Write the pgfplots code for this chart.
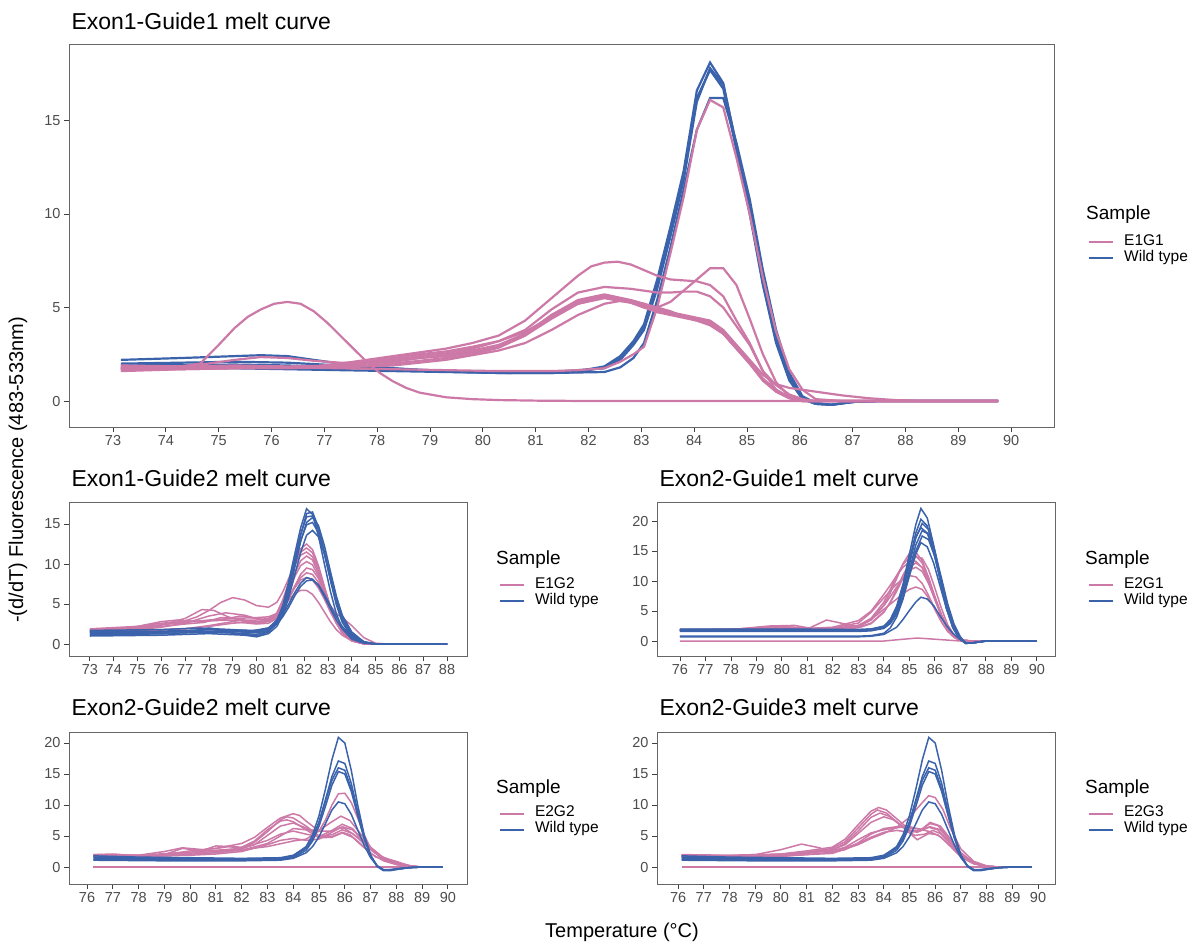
\documentclass[border=0pt]{standalone}
\usepackage{fontspec}
\setmainfont{Liberation Sans}
\usepackage{pgfplots}
\pgfplotsset{compat=1.18}
\definecolor{pk}{RGB}{204,121,167}
\definecolor{bl}{RGB}{59,99,171}
\newcommand{\titlefont}{\fontsize{23}{25}\selectfont}
\newcommand{\axfont}{\fontsize{20}{23}\selectfont}
\newcommand{\legtitle}{\fontsize{19}{21}\selectfont}
\pgfplotsset{
  meltbase/.style={
    scale only axis, no markers, clip=true,
    axis line style={black!60, line width=0.9pt},
    tick style={black!75, line width=0.9pt},
    major tick length=5pt, tick align=outside, tick pos=left,
    ticklabel style={font=\fontsize{14.5}{16}\selectfont, text=black!70},
    /pgf/number format/assume math mode=true,
    legend image code/.code={\draw[##1] (0pt,0pt) -- (24pt,0pt);},
    legend cell align=left,
    legend style={draw=none, fill=none, inner sep=0pt, outer sep=0pt,
      font=\fontsize{15.5}{16}\selectfont, row sep=0pt, column sep=10pt,
      nodes={inner sep=0pt, text height=11pt, text depth=5pt}, anchor=west},
  },
  pT/.style={draw=pk, line width=2.2pt, forget plot},
  bT/.style={draw=bl, line width=2.2pt, forget plot},
  pS/.style={draw=pk, line width=1.5pt, forget plot},
  bS/.style={draw=bl, line width=1.5pt, forget plot},
}
\begin{document}
\begin{tikzpicture}[x=1pt,y=1pt]
\path (0,0) rectangle (1198,-945);
% ================= TOP PANEL =================
\begin{axis}[meltbase, at={(69pt,-44pt)}, anchor=north west,
  width=985pt, height=383pt, xmin=72.167, xmax=90.81, ymin=-1.39, ymax=19.09,
  xtick={73,74,...,90}, ytick={0,5,10,15},
  legend style={at={(1.0345,0.462)}}]
\addlegendimage{draw=pk, line width=2.2pt}\addlegendentry{E1G1}
\addlegendimage{draw=bl, line width=2.2pt}\addlegendentry{Wild type}
% blue
\addplot[bT] coordinates {(73.15,2.2)(74.3,2.3)(75.3,2.4)(75.8,2.45)(76.3,2.4)(76.8,2.2)(77.3,2.0)(77.8,1.85)(78.3,1.75)(78.8,1.65)(79.5,1.55)(80.5,1.5)(81.3,1.55)(81.8,1.6)(82.3,1.85)(82.6,2.4)(82.85,3.2)(83.05,4.1)(83.3,6.5)(83.55,9.3)(83.8,12.3)(84.05,16.6)(84.3,18.1)(84.55,17.0)(84.8,13.6)(85.05,10.2)(85.3,6.3)(85.55,3.2)(85.8,1.2)(86.05,0.1)(86.3,-0.15)(86.6,-0.2)(87.0,-0.05)(87.5,0)(89.75,0)};
\addplot[bT] coordinates {(73.15,2.0)(74.3,2.05)(75.3,2.1)(76.3,2.05)(77.3,1.9)(78.3,1.75)(79.3,1.6)(80.3,1.5)(81.3,1.5)(81.8,1.55)(82.3,1.8)(82.6,2.3)(82.85,3.1)(83.05,4.0)(83.3,6.3)(83.55,9.1)(83.8,12.0)(84.05,16.2)(84.3,17.7)(84.55,16.7)(84.8,13.4)(85.05,10.0)(85.3,6.2)(85.55,3.1)(85.8,1.1)(86.05,0.1)(86.3,-0.15)(86.6,-0.2)(87.0,-0.05)(87.5,0)(89.75,0)};
\addplot[bT] coordinates {(73.15,1.75)(74.3,1.75)(75.3,1.75)(76.3,1.7)(77.3,1.65)(78.3,1.6)(79.3,1.55)(80.3,1.5)(81.3,1.5)(82.3,1.55)(82.6,1.8)(82.85,2.3)(83.05,3.1)(83.3,5.4)(83.55,8.2)(83.8,11.3)(84.05,14.5)(84.3,16.2)(84.55,16.2)(84.8,13.8)(85.05,10.8)(85.3,7.0)(85.55,3.8)(85.8,1.5)(86.05,0.25)(86.3,-0.1)(86.6,-0.2)(87.0,-0.05)(87.5,0)(89.75,0)};
\addplot[bT] coordinates {(73.15,1.9)(75.3,1.95)(76.3,1.9)(77.3,1.8)(78.3,1.7)(79.3,1.6)(80.3,1.55)(81.3,1.55)(82.3,1.75)(82.6,2.2)(82.85,3.0)(83.05,3.8)(83.3,6.0)(83.55,8.8)(83.8,11.8)(84.05,16.0)(84.3,17.8)(84.55,16.9)(84.8,13.7)(85.05,10.4)(85.3,6.6)(85.55,3.4)(85.8,1.3)(86.05,0.15)(86.3,-0.15)(86.6,-0.2)(87.0,-0.05)(87.5,0)(89.75,0)};
% pink
\addplot[pT] coordinates {(73.15,1.8)(73.8,1.8)(74.3,1.85)(74.65,2.0)(75.0,3.0)(75.3,3.9)(75.55,4.5)(75.8,4.9)(76.05,5.2)(76.3,5.3)(76.55,5.2)(76.8,4.8)(77.05,4.2)(77.3,3.5)(77.55,2.8)(77.8,2.1)(78.05,1.5)(78.3,1.05)(78.55,0.7)(78.8,0.45)(79.3,0.2)(79.8,0.1)(80.3,0.05)(81.0,0.02)(82,0)(89.75,0)};
\addplot[pT] coordinates {(73.15,1.7)(74.3,1.75)(75.3,1.8)(76.3,1.8)(77.3,1.75)(78.3,1.7)(79.3,1.65)(80.3,1.6)(81.3,1.6)(81.8,1.65)(82.3,1.75)(82.6,2.1)(82.85,2.5)(83.05,2.9)(83.3,5.0)(83.55,7.9)(83.8,10.9)(84.05,14.5)(84.3,16.1)(84.55,15.7)(84.8,13.0)(85.05,10.0)(85.3,6.6)(85.55,3.7)(85.8,1.7)(86.05,0.6)(86.3,0.1)(86.8,0)(89.75,0)};
\addplot[pT] coordinates {(73.15,1.75)(74.3,1.8)(75.3,1.8)(76.3,1.8)(76.8,1.85)(77.3,2.0)(77.8,2.2)(78.3,2.4)(78.8,2.6)(79.3,2.8)(79.8,3.1)(80.3,3.5)(80.8,4.3)(81.3,5.5)(81.8,6.7)(82.05,7.2)(82.3,7.4)(82.55,7.45)(82.8,7.3)(83.05,7.0)(83.3,6.7)(83.55,6.5)(83.8,6.45)(84.05,6.4)(84.3,6.2)(84.55,5.6)(84.8,4.3)(85.05,3.1)(85.3,1.6)(85.55,0.85)(85.8,0.35)(86.05,0.1)(86.3,0)(89.75,0)};
\addplot[pT] coordinates {(73.15,1.9)(74.3,1.85)(75.3,1.8)(76.3,1.8)(77.3,1.9)(77.8,2.1)(78.3,2.3)(78.8,2.5)(79.3,2.65)(79.8,2.9)(80.3,3.2)(80.8,3.7)(81.3,4.5)(81.8,5.2)(82.3,5.55)(82.8,5.3)(83.05,5.0)(83.3,5.0)(83.55,5.3)(83.8,5.9)(84.05,6.5)(84.3,7.1)(84.55,7.1)(84.8,6.2)(85.05,4.4)(85.3,2.5)(85.55,1.0)(85.8,0.25)(86.05,0)(89.75,0)};
\addplot[pT] coordinates {(73.15,1.6)(74.3,1.7)(75.3,1.75)(76.3,1.8)(77.3,1.9)(77.8,2.05)(78.3,2.2)(78.8,2.4)(79.3,2.55)(79.8,2.8)(80.3,3.2)(80.8,3.8)(81.3,4.9)(81.8,5.8)(82.3,6.1)(82.8,6.0)(83.05,5.9)(83.3,5.8)(83.55,5.8)(83.8,5.85)(84.05,5.85)(84.3,5.6)(84.55,5.0)(84.8,4.0)(85.05,3.0)(85.3,1.6)(85.55,0.6)(85.8,0.2)(86.05,0)(89.75,0)};
\addplot[pT] coordinates {(73.15,1.85)(74.3,1.85)(75.3,1.9)(76.3,1.85)(77.3,1.9)(77.8,2.0)(78.3,2.1)(78.8,2.3)(79.3,2.45)(79.8,2.7)(80.3,3.0)(80.8,3.6)(81.3,4.6)(81.8,5.3)(82.3,5.6)(82.8,5.3)(83.05,5.1)(83.3,4.8)(83.55,4.65)(83.8,4.5)(84.05,4.4)(84.3,4.2)(84.55,3.7)(84.8,2.9)(85.05,2.1)(85.3,1.2)(85.55,0.6)(85.8,0.2)(86.05,0)(89.75,0)};
\addplot[pT] coordinates {(73.15,1.7)(74.3,1.75)(75.3,1.8)(76.3,1.8)(77.3,1.85)(77.8,1.9)(78.3,2.0)(78.8,2.15)(79.3,2.3)(79.8,2.5)(80.3,2.85)(80.8,3.5)(81.3,4.6)(81.8,5.4)(82.3,5.7)(82.8,5.4)(83.05,5.2)(83.3,4.9)(83.55,4.75)(83.8,4.6)(84.05,4.45)(84.3,4.3)(84.55,3.8)(84.8,3.0)(85.05,2.2)(85.3,1.4)(85.55,0.9)(85.8,0.7)(86.05,0.6)(86.3,0.5)(86.8,0.3)(87.3,0.15)(87.8,0.05)(88.3,0)(89.75,0)};
\addplot[pT] coordinates {(73.15,1.75)(73.8,1.8)(74.3,1.85)(74.8,2.0)(75.3,2.2)(75.8,2.35)(76.3,2.3)(76.8,2.15)(77.3,2.05)(77.8,2.05)(78.3,2.1)(78.8,2.3)(79.3,2.4)(79.8,2.6)(80.3,2.9)(80.8,3.5)(81.3,4.4)(81.8,5.2)(82.3,5.5)(82.8,5.25)(83.05,5.0)(83.3,4.75)(83.55,4.6)(83.8,4.45)(84.05,4.3)(84.3,4.05)(84.55,3.6)(84.8,2.8)(85.05,2.0)(85.3,1.1)(85.55,0.5)(85.8,0.15)(86.05,0)(89.75,0)};
\addplot[pT] coordinates {(73.15,1.65)(74.3,1.7)(75.3,1.75)(76.3,1.75)(77.3,1.8)(77.8,1.85)(78.3,1.9)(78.8,2.05)(79.3,2.2)(79.8,2.45)(80.3,2.7)(80.8,3.1)(81.3,3.8)(81.8,4.6)(82.3,5.2)(82.6,5.35)(82.8,5.3)(83.05,5.2)(83.3,5.0)(83.55,4.8)(83.8,4.5)(84.05,4.3)(84.3,4.1)(84.55,3.6)(84.8,2.8)(85.05,2.0)(85.3,1.1)(85.55,0.5)(85.8,0.15)(86.05,0)(89.75,0)};
\end{axis}
% ================= E1G2 =================
\begin{axis}[meltbase, at={(69pt,-502pt)}, anchor=north west,
  width=398pt, height=154pt, xmin=72.12, xmax=88.84, ymin=-1.5, ymax=17.75,
  xtick={73,74,...,88}, ytick={0,5,10,15},
  legend style={at={(1.0804,0.406)}}]
\addlegendimage{draw=pk, line width=2pt}\addlegendentry{E1G2}
\addlegendimage{draw=bl, line width=2pt}\addlegendentry{Wild type}
\addplot[pS] coordinates {(73,1.8)(74,1.9)(75,2.1)(76,2.4)(77,2.9)(77.5,3.4)(78,4.2)(78.5,5.2)(79,5.8)(79.5,5.5)(80,4.8)(80.5,4.6)(80.85,5.2)(81.1,6.5)(81.35,8.2)(81.6,9.9)(81.85,11.1)(82.1,11.5)(82.35,10.9)(82.6,9.2)(82.85,6.9)(83.1,4.6)(83.35,2.7)(83.6,1.4)(84,0.4)(84.5,0.05)(85,0)(88,0)};
\addplot[pS] coordinates {(73,1.6)(74,1.8)(75,2.0)(76,2.4)(77,3.2)(77.7,4.3)(78.2,4.2)(78.8,3.4)(79.5,2.8)(80,2.6)(80.5,2.9)(80.85,3.9)(81.1,5.5)(81.35,7.7)(81.6,10.0)(81.85,11.9)(82.1,12.5)(82.35,11.8)(82.6,9.8)(82.85,7.2)(83.1,4.7)(83.35,2.7)(83.6,1.4)(84,0.4)(84.5,0.05)(85,0)(88,0)};
\addplot[pS] coordinates {(73,1.7)(74,1.9)(75,2.2)(76,2.8)(76.7,3.0)(77.5,2.8)(78.5,3.0)(79.3,3.5)(80,3.2)(80.5,3.0)(80.85,3.6)(81.1,4.9)(81.35,6.8)(81.6,8.8)(81.85,10.4)(82.1,11.0)(82.35,10.5)(82.6,8.8)(82.85,6.6)(83.1,4.4)(83.35,2.6)(83.6,1.4)(84,0.4)(84.5,0)(85,0)(88,0)};
\addplot[pS] coordinates {(73,1.5)(75,1.8)(76,2.1)(77,2.6)(78,3.5)(78.7,3.9)(79.5,3.6)(80.2,3.0)(80.5,2.9)(80.85,3.3)(81.1,4.2)(81.35,5.6)(81.6,7.2)(81.85,8.7)(82.1,9.5)(82.35,9.3)(82.6,8.2)(82.85,6.4)(83.1,4.5)(83.35,2.9)(83.6,1.7)(84,0.6)(84.5,0.1)(85,0)(88,0)};
\addplot[pS] coordinates {(73,1.7)(75,2.0)(76,2.4)(77,2.7)(78,3.0)(79,3.2)(80,3.3)(80.5,3.4)(80.85,3.8)(81.1,4.6)(81.35,5.8)(81.6,7.2)(81.85,8.3)(82.1,8.9)(82.35,8.7)(82.6,7.7)(82.85,6.2)(83.1,4.8)(83.35,3.8)(83.6,3.3)(84,2.3)(84.5,0.8)(85,0.1)(85.5,0)(88,0)};
\addplot[pS] coordinates {(73,1.9)(75,2.2)(76,2.6)(77,2.8)(78,2.9)(79,3.0)(80,3.0)(80.5,3.2)(80.85,3.8)(81.1,4.6)(81.35,5.5)(81.6,6.3)(81.85,6.7)(82.1,6.7)(82.35,6.2)(82.6,5.2)(82.85,4.0)(83.1,2.8)(83.35,1.8)(83.6,1.1)(84,0.4)(84.5,0.05)(85,0)(88,0)};
\addplot[pS] coordinates {(73,1.6)(75,1.7)(77,1.9)(78,2.3)(79,2.8)(80,2.5)(80.5,2.6)(80.85,3.2)(81.1,4.5)(81.35,6.4)(81.6,8.4)(81.85,9.8)(82.1,10.3)(82.35,9.9)(82.6,8.5)(82.85,6.5)(83.1,4.5)(83.35,2.8)(83.6,1.6)(84,0.5)(84.5,0.05)(85,0)(88,0)};
\addplot[pS] coordinates {(73,1.8)(75,1.9)(76,2.2)(77,2.5)(77.8,2.7)(78.5,3.3)(79.2,3.2)(80,2.6)(80.5,2.8)(80.85,3.4)(81.1,4.4)(81.35,5.7)(81.6,7.0)(81.85,8.0)(82.1,8.3)(82.35,8.0)(82.6,7.0)(82.85,5.6)(83.1,4.0)(83.35,2.6)(83.6,1.5)(84,0.5)(84.5,0.05)(85,0)(88,0)};
\addplot[pS] coordinates {(73,1.5)(75,1.6)(77,1.9)(78,2.2)(79,2.6)(80,2.8)(80.5,3.0)(80.85,3.8)(81.1,5.3)(81.35,7.5)(81.6,9.8)(81.85,11.5)(82.1,12.0)(82.35,11.4)(82.6,9.5)(82.85,7.0)(83.1,4.6)(83.35,2.7)(83.6,1.4)(84,0.4)(84.5,0.05)(85,0)(88,0)};
\addplot[bS] coordinates {(73,1.1)(75,1.2)(77,1.4)(78,1.5)(79,1.4)(79.5,1.2)(80,1.0)(80.5,1.5)(80.85,2.8)(81.1,4.8)(81.35,7.8)(81.6,11.2)(81.85,14.5)(82.1,16.9)(82.35,16.2)(82.6,13.5)(82.85,10.0)(83.1,6.6)(83.35,3.8)(83.6,1.9)(84,0.6)(84.5,0.1)(85,0)(88,0)};
\addplot[bS] coordinates {(73,1.3)(75,1.4)(77,1.6)(78,1.8)(79,1.6)(80,1.4)(80.5,1.7)(80.85,2.6)(81.1,4.2)(81.35,6.9)(81.6,10.2)(81.85,13.6)(82.1,16.3)(82.35,16.5)(82.6,14.6)(82.85,11.5)(83.1,8.0)(83.35,4.9)(83.6,2.7)(84,0.9)(84.5,0.2)(85,0)(88,0)};
\addplot[bS] coordinates {(73,1.6)(75,1.6)(76,1.5)(77.5,1.7)(78,2.0)(78.5,1.8)(79.5,1.5)(80.5,2.0)(80.85,3.0)(81.1,4.6)(81.35,7.2)(81.6,10.5)(81.85,13.7)(82.1,15.9)(82.35,16.0)(82.6,14.3)(82.85,11.4)(83.1,8.2)(83.35,5.3)(83.6,3.0)(84,1.1)(84.5,0.2)(85,0)(88,0)};
\addplot[bS] coordinates {(73,1.2)(76,1.3)(78,1.5)(79.5,1.3)(80,1.2)(80.5,1.6)(80.85,2.5)(81.1,3.9)(81.35,6.3)(81.6,9.5)(81.85,12.8)(82.1,15.2)(82.35,15.8)(82.6,14.8)(82.85,12.3)(83.1,9.1)(83.35,6.0)(83.6,3.5)(84,1.3)(84.5,0.3)(85,0)(88,0)};
\addplot[bS] coordinates {(73,1.4)(76,1.5)(78,1.6)(80,1.5)(80.5,1.9)(80.85,2.9)(81.1,4.5)(81.35,7.0)(81.6,10.0)(81.85,12.9)(82.1,14.9)(82.35,15.2)(82.6,13.9)(82.85,11.2)(83.1,8.1)(83.35,5.3)(83.6,3.1)(84,1.2)(84.5,0.2)(85,0)(88,0)};
\addplot[bS] coordinates {(73,1.0)(76,1.1)(78,1.3)(79.5,1.1)(80,0.9)(80.5,1.3)(80.85,2.2)(81.1,3.6)(81.35,5.8)(81.6,8.6)(81.85,11.4)(82.1,13.6)(82.35,14.2)(82.6,13.4)(82.85,11.3)(83.1,8.6)(83.35,5.8)(83.6,3.6)(84,1.5)(84.5,0.3)(85,0)(88,0)};
\addplot[bS] coordinates {(73,1.5)(76,1.6)(78,1.8)(80,1.7)(80.5,2.0)(80.85,2.7)(81.1,3.7)(81.35,5.0)(81.6,6.4)(81.85,7.6)(82.1,8.3)(82.35,8.1)(82.6,7.3)(82.85,5.9)(83.1,4.4)(83.35,3.0)(83.6,1.9)(84,0.8)(84.5,0.2)(85,0)(88,0)};
\addplot[bS] coordinates {(73,1.7)(76,1.8)(77.5,2.0)(79,1.8)(80,1.6)(80.5,1.9)(80.85,2.5)(81.1,3.4)(81.35,4.6)(81.6,6.0)(81.85,7.2)(82.1,7.9)(82.35,8.0)(82.6,7.4)(82.85,6.2)(83.1,4.8)(83.35,3.4)(83.6,2.2)(84,0.9)(84.5,0.2)(85,0)(88,0)};
\end{axis}
% ================= E2G1 =================
\begin{axis}[meltbase, at={(657pt,-502pt)}, anchor=north west,
  width=398pt, height=154pt, xmin=75.10, xmax=90.71, ymin=-2.5, ymax=23.17,
  xtick={76,77,...,90}, ytick={0,5,10,15,20},
  legend style={at={(1.0829,0.406)}}]
\addlegendimage{draw=pk, line width=2pt}\addlegendentry{E2G1}
\addlegendimage{draw=bl, line width=2pt}\addlegendentry{Wild type}
\addplot[pS] coordinates {(76,0)(84,0)(84.5,0.2)(85.3,0.5)(86,0.3)(87,0)(90,0)};
\addplot[pS] coordinates {(76,1.8)(78,1.8)(79,2.2)(80,2.4)(81,2.0)(82,2.0)(83,2.4)(83.5,3.5)(84,6.0)(84.25,8.0)(84.5,10.4)(84.75,12.9)(85,14.6)(85.25,14.8)(85.5,13.4)(85.75,10.6)(86,7.3)(86.25,4.3)(86.5,2.0)(86.75,0.7)(87,0.1)(87.5,0)(90,0)};
\addplot[pS] coordinates {(76,1.8)(78,1.9)(79.5,2.5)(80.5,2.6)(81.3,2.0)(82,2.1)(83,2.6)(83.5,3.8)(84,6.5)(84.25,8.6)(84.5,10.9)(84.75,12.8)(85,13.9)(85.25,14.2)(85.5,13.0)(85.75,10.5)(86,7.3)(86.25,4.4)(86.5,2.1)(86.75,0.8)(87,0.1)(87.5,0)(90,0)};
\addplot[pS] coordinates {(76,1.9)(78,1.9)(79,2.1)(80,2.4)(81,2.1)(82,2.3)(83,3.4)(83.5,5.0)(84,7.8)(84.25,9.3)(84.5,10.9)(84.75,12.3)(85,13.2)(85.25,13.3)(85.5,12.2)(85.75,9.8)(86,6.9)(86.25,4.2)(86.5,2.1)(86.75,0.8)(87,0.1)(87.5,0)(90,0)};
\addplot[pS] coordinates {(76,1.7)(78,1.8)(80,2.0)(81,2.0)(81.75,3.5)(82.3,3.0)(83,2.3)(83.5,3.0)(84,4.9)(84.25,6.4)(84.5,8.3)(84.75,10.5)(85,12.3)(85.25,13.0)(85.5,12.3)(85.75,10.2)(86,7.3)(86.25,4.5)(86.5,2.2)(86.75,0.8)(87,0.1)(87.5,0)(90,0)};
\addplot[pS] coordinates {(76,1.8)(78,1.9)(79.5,2.4)(80.5,2.3)(81.5,2.0)(82.5,2.1)(83,2.5)(83.5,3.6)(84,5.9)(84.25,7.4)(84.5,9.0)(84.75,10.6)(85,11.8)(85.25,12.3)(85.5,11.6)(85.75,9.6)(86,6.9)(86.25,4.3)(86.5,2.1)(86.75,0.8)(87,0.1)(87.5,0)(90,0)};
\addplot[pS] coordinates {(76,1.9)(78,2.0)(80,2.2)(81,2.1)(82,2.2)(83,3.0)(83.5,4.8)(84,7.2)(84.25,8.4)(84.5,9.5)(84.75,10.4)(85,10.9)(85.25,10.7)(85.5,9.6)(85.75,7.6)(86,5.3)(86.25,3.2)(86.5,1.6)(86.75,0.6)(87,0.1)(87.5,0)(90,0)};
\addplot[pS] coordinates {(76,1.8)(78,1.9)(80,2.2)(81,2.0)(82,2.1)(83,2.6)(83.5,3.6)(84,5.3)(84.5,7.0)(84.75,7.9)(85,8.6)(85.25,9.0)(85.5,8.6)(85.75,7.2)(86,5.3)(86.25,3.3)(86.5,1.7)(86.75,0.6)(87,0.1)(87.5,0)(90,0)};
\addplot[pS] coordinates {(76,1.7)(78,1.8)(79,2.0)(80,2.3)(81,1.9)(82,1.9)(83,2.2)(83.5,2.9)(84,4.8)(84.25,6.5)(84.5,8.7)(84.75,11.0)(85,12.9)(85.25,14.0)(85.5,13.8)(85.75,11.9)(86,8.8)(86.25,5.5)(86.5,2.7)(86.75,1.0)(87,0.2)(87.5,0)(90,0)};
\addplot[bS] coordinates {(76,1.9)(80,1.9)(83,1.9)(83.5,2.0)(84,2.5)(84.25,3.6)(84.5,5.8)(84.75,9.5)(85,14.5)(85.25,19.4)(85.45,22.1)(85.7,20.5)(85.95,16.0)(86.2,10.5)(86.45,5.5)(86.7,2.2)(86.95,0.4)(87.2,-0.4)(87.5,-0.3)(88,0)(90,0)};
\addplot[bS] coordinates {(76,1.8)(80,1.8)(83,1.8)(83.5,1.9)(84,2.3)(84.25,3.3)(84.5,5.3)(84.75,8.8)(85,13.5)(85.25,18.0)(85.45,20.3)(85.7,19.2)(85.95,15.3)(86.2,10.3)(86.45,5.5)(86.7,2.3)(86.95,0.5)(87.2,-0.4)(87.5,-0.3)(88,0)(90,0)};
\addplot[bS] coordinates {(76,2.0)(80,2.0)(83,1.9)(83.5,2.0)(84,2.4)(84.25,3.2)(84.5,5.0)(84.75,8.3)(85,12.8)(85.25,17.2)(85.5,19.6)(85.75,18.6)(86,15.0)(86.25,10.0)(86.5,5.3)(86.75,2.1)(87,0.4)(87.2,-0.3)(87.5,-0.3)(88,0)(90,0)};
\addplot[bS] coordinates {(76,1.7)(80,1.7)(83,1.7)(83.5,1.8)(84,2.3)(84.25,3.4)(84.5,5.6)(84.75,9.2)(85,13.6)(85.25,17.3)(85.45,18.9)(85.7,18.0)(85.95,14.8)(86.2,10.3)(86.45,5.9)(86.7,2.7)(86.95,0.7)(87.2,-0.3)(87.5,-0.3)(88,0)(90,0)};
\addplot[bS] coordinates {(76,1.9)(80,1.9)(83,1.8)(83.5,1.9)(84,2.2)(84.25,3.0)(84.5,4.6)(84.75,7.6)(85,11.8)(85.25,16.0)(85.5,18.4)(85.75,17.8)(86,14.9)(86.25,10.6)(86.5,6.2)(86.75,2.8)(87,0.7)(87.2,-0.3)(87.5,-0.3)(88,0)(90,0)};
\addplot[bS] coordinates {(76,1.6)(80,1.6)(83,1.6)(83.5,1.7)(84,2.1)(84.25,2.9)(84.5,4.5)(84.75,7.3)(85,10.9)(85.25,14.5)(85.45,16.4)(85.7,15.7)(85.95,13.0)(86.2,9.2)(86.45,5.4)(86.7,2.5)(86.95,0.6)(87.2,-0.3)(87.5,-0.3)(88,0)(90,0)};
\addplot[bS] coordinates {(76,0.7)(80,0.7)(83,0.7)(83.5,0.8)(84,1.1)(84.5,2.3)(84.75,3.6)(85,5.1)(85.25,6.5)(85.45,7.3)(85.7,7.0)(85.95,5.9)(86.2,4.2)(86.45,2.6)(86.7,1.3)(86.95,0.4)(87.2,-0.3)(87.5,-0.3)(88,0)(90,0)};
\addplot[bS] coordinates {(76,0.8)(80,0.8)(83,0.8)(83.5,0.9)(84,1.3)(84.25,2.2)(84.5,4.0)(84.75,7.0)(85,11.0)(85.25,15.0)(85.5,17.5)(85.75,16.9)(86,14.0)(86.25,9.8)(86.5,5.6)(86.75,2.4)(87,0.5)(87.2,-0.4)(87.5,-0.3)(88,0)(90,0)};
\end{axis}
% ================= E2G2 =================
\begin{axis}[meltbase, at={(69pt,-732pt)}, anchor=north west,
  width=398pt, height=152pt, xmin=75.30, xmax=90.74, ymin=-2.74, ymax=21.77,
  xtick={76,77,...,90}, ytick={0,5,10,15,20},
  legend style={at={(1.0804,0.408)}}]
\addlegendimage{draw=pk, line width=2pt}\addlegendentry{E2G2}
\addlegendimage{draw=bl, line width=2pt}\addlegendentry{Wild type}
\addplot[pS] coordinates {(76.25,0)(89.8,0)};
\addplot[pS] coordinates {(76.25,1.9)(78,1.8)(80,2.2)(81,2.5)(82,2.8)(83,3.3)(84,4.2)(84.5,4.5)(85,5.8)(85.25,7.6)(85.5,10.0)(85.75,11.8)(86,11.9)(86.25,10.4)(86.5,7.9)(86.75,5.2)(87,3.0)(87.5,1.2)(88,0.4)(88.5,0.1)(89,0)(89.8,0)};
\addplot[pS] coordinates {(76.25,2.0)(77,2.1)(78,1.8)(79,2.0)(80,2.6)(81,3.0)(82,3.8)(82.5,4.8)(83,6.4)(83.5,7.9)(84,8.6)(84.25,8.3)(84.5,7.4)(85,5.8)(85.5,5.8)(85.8,6.3)(86,6.2)(86.5,4.8)(87,2.8)(87.5,1.3)(87.75,1.2)(88,0.9)(88.5,0.2)(89,0)(89.8,0)};
\addplot[pS] coordinates {(76.25,1.8)(78,1.7)(79,2.0)(79.7,3.0)(80.3,2.7)(81,2.6)(82,3.0)(82.5,4.0)(83,5.7)(83.5,7.6)(83.75,8.1)(84,7.9)(84.5,6.6)(85,5.0)(85.5,4.9)(85.9,5.6)(86.2,5.2)(86.6,3.8)(87,2.2)(87.5,1.0)(88,0.4)(88.5,0.1)(89,0)(89.8,0)};
\addplot[pS] coordinates {(76.25,1.7)(78,1.6)(80,2.0)(81,3.4)(81.5,3.3)(82,3.2)(82.5,4.2)(83,6.0)(83.5,7.4)(83.75,7.6)(84,7.3)(84.5,6.0)(85,4.7)(85.5,4.8)(85.9,5.5)(86.3,4.8)(86.7,3.3)(87.2,1.6)(87.7,1.2)(88,0.8)(88.5,0.2)(89,0)(89.8,0)};
\addplot[pS] coordinates {(76.25,1.9)(78,1.8)(80,2.1)(81,2.3)(82,2.7)(83,3.8)(83.5,5.0)(84,6.2)(84.5,6.0)(85,5.9)(85.5,7.3)(85.85,8.2)(86.2,7.5)(86.6,5.4)(87,3.2)(87.5,1.5)(88,0.5)(88.5,0.1)(89,0)(89.8,0)};
\addplot[pS] coordinates {(76.25,2.0)(78,1.9)(80,2.4)(81,2.7)(82,3.0)(83,4.3)(83.5,5.3)(84,5.8)(84.5,5.3)(85,4.9)(85.5,5.9)(85.9,6.9)(86.3,6.2)(86.7,4.3)(87.1,2.5)(87.5,1.3)(88,0.6)(88.5,0.1)(89,0)(89.8,0)};
\addplot[pS] coordinates {(76.25,1.8)(78,1.7)(80,1.9)(81,2.1)(82,2.5)(83,3.6)(83.5,4.3)(84,4.6)(84.5,4.3)(85,4.5)(85.5,5.6)(85.9,6.5)(86.3,6.0)(86.7,4.4)(87.1,2.6)(87.5,1.3)(88,0.5)(88.5,0.1)(89,0)(89.8,0)};
\addplot[pS] coordinates {(76.25,1.9)(77,2.0)(78,1.9)(79,2.5)(79.7,3.1)(80.5,2.8)(81,3.0)(81.5,3.3)(82,3.0)(82.5,3.6)(83,5.1)(83.5,6.6)(84,7.1)(84.5,6.3)(85,5.0)(85.5,5.2)(85.9,6.0)(86.3,5.4)(86.8,3.6)(87.3,1.9)(87.8,1.1)(88.2,0.5)(88.7,0.1)(89,0)(89.8,0)};
\addplot[bS] coordinates {(76.25,1.6)(79,1.4)(82,1.3)(83.5,1.4)(84,1.8)(84.5,3.3)(84.75,5.2)(85,8.3)(85.25,12.6)(85.5,17.3)(85.75,20.9)(86,20.0)(86.25,15.6)(86.5,10.0)(86.75,5.2)(87,1.9)(87.25,0.1)(87.5,-0.6)(87.75,-0.6)(88,-0.4)(88.5,-0.1)(89,0)(89.8,0)};
\addplot[bS] coordinates {(76.25,1.4)(79,1.3)(82,1.2)(83.5,1.3)(84,1.7)(84.5,3.0)(84.75,4.6)(85,7.3)(85.25,10.9)(85.5,14.6)(85.75,17.1)(86,16.7)(86.25,13.5)(86.5,9.0)(86.75,4.9)(87,1.9)(87.25,0.2)(87.5,-0.5)(87.75,-0.5)(88,-0.4)(88.5,-0.1)(89,0)(89.8,0)};
\addplot[bS] coordinates {(76.25,1.2)(79,1.2)(82,1.1)(83.5,1.2)(84,1.5)(84.5,2.7)(84.75,4.2)(85,6.6)(85.25,9.8)(85.5,13.2)(85.75,15.4)(86,15.0)(86.25,12.2)(86.5,8.3)(86.75,4.6)(87,1.8)(87.25,0.2)(87.5,-0.5)(87.75,-0.5)(88,-0.3)(88.5,-0.1)(89,0)(89.8,0)};
\addplot[bS] coordinates {(76.25,1.1)(79,1.0)(82,1.0)(83.5,1.1)(84,1.4)(84.5,2.3)(84.75,3.3)(85,4.9)(85.25,7.0)(85.5,9.2)(85.75,10.5)(86,10.2)(86.25,8.5)(86.5,6.0)(86.75,3.5)(87,1.5)(87.25,0.2)(87.5,-0.4)(87.75,-0.4)(88,-0.3)(88.5,-0.1)(89,0)(89.8,0)};
\addplot[bS] coordinates {(76.25,1.8)(78,1.6)(82,1.4)(83.5,1.5)(84,1.9)(84.5,3.2)(84.75,4.7)(85,7.2)(85.25,10.6)(85.5,14.0)(85.75,16.0)(86,15.6)(86.25,12.7)(86.5,8.6)(86.75,4.7)(87,1.8)(87.25,0.2)(87.5,-0.5)(87.75,-0.5)(88,-0.3)(88.5,-0.1)(89,0)(89.8,0)};
\end{axis}
% ================= E2G3 =================
\begin{axis}[meltbase, at={(657pt,-732pt)}, anchor=north west,
  width=398pt, height=152pt, xmin=75.18, xmax=90.66, ymin=-2.74, ymax=21.77,
  xtick={76,77,...,90}, ytick={0,5,10,15,20},
  legend style={at={(1.0829,0.408)}}]
\addlegendimage{draw=pk, line width=2pt}\addlegendentry{E2G3}
\addlegendimage{draw=bl, line width=2pt}\addlegendentry{Wild type}
\addplot[pS] coordinates {(76.14,0)(89.76,0)};
\addplot[pS] coordinates {(76.14,1.7)(78,1.6)(80,1.8)(82,2.2)(83,3.6)(83.5,4.6)(84,5.4)(84.5,6.4)(85,8.0)(85.5,10.4)(85.75,11.5)(86,11.2)(86.3,9.3)(86.6,6.2)(87,2.9)(87.5,0.9)(88,0.2)(88.5,0)(89.76,0)};
\addplot[pS] coordinates {(76.14,1.8)(78,1.7)(79,1.8)(80,2.1)(81,2.6)(82,3.2)(82.5,4.5)(83,6.8)(83.5,9.0)(83.8,9.6)(84.1,9.2)(84.5,7.8)(85,6.0)(85.3,5.6)(85.75,6.4)(86.1,6.0)(86.5,4.2)(87,2.0)(87.5,0.6)(88,0.1)(88.5,0)(89.76,0)};
\addplot[pS] coordinates {(76.14,1.9)(78,1.8)(80,2.0)(81,2.4)(82,3.0)(82.5,4.1)(83,6.3)(83.5,8.5)(83.75,9.2)(84.1,8.7)(84.5,7.3)(85,5.5)(85.3,4.4)(85.75,5.4)(86.1,5.2)(86.5,3.8)(87,1.8)(87.5,0.6)(88,0.1)(88.5,0)(89.76,0)};
\addplot[pS] coordinates {(76.14,1.7)(78,1.7)(80,1.9)(81,2.2)(82,2.7)(82.5,3.8)(83,5.8)(83.5,8.0)(83.85,8.7)(84.2,8.2)(84.6,6.9)(85,5.9)(85.4,5.9)(85.8,7.0)(86.1,6.7)(86.5,4.8)(87,2.3)(87.5,0.7)(88,0.1)(88.5,0)(89.76,0)};
\addplot[pS] coordinates {(76.14,1.8)(78,1.8)(79,2.0)(80,2.8)(80.8,3.7)(81.5,3.1)(82,2.4)(82.5,2.8)(83,3.9)(83.5,5.3)(84,6.2)(84.5,6.5)(85,6.3)(85.5,6.1)(85.8,6.5)(86.2,6.0)(86.6,4.1)(87,2.0)(87.5,0.6)(88,0.1)(88.5,0)(89.76,0)};
\addplot[pS] coordinates {(76.14,2.0)(78,1.9)(80,2.1)(81,2.3)(82,2.6)(82.5,3.2)(83,4.4)(83.5,5.5)(84,6.0)(84.5,6.3)(84.9,6.6)(85.3,6.2)(85.8,5.7)(86.2,4.9)(86.6,3.3)(87,1.6)(87.5,0.5)(88,0.1)(88.5,0)(89.76,0)};
\addplot[pS] coordinates {(76.14,1.6)(78,1.6)(80,1.7)(81,2.0)(82,2.4)(83,3.8)(83.5,4.8)(84,5.6)(84.5,5.9)(85,5.6)(85.4,5.8)(85.8,7.2)(86.2,6.6)(86.6,4.5)(87,2.2)(87.5,0.7)(88,0.1)(88.5,0)(89.76,0)};
\addplot[pS] coordinates {(76.14,1.9)(78,1.8)(80,2.0)(81,2.3)(82,2.8)(82.5,3.6)(83,5.4)(83.5,7.2)(84,8.1)(84.4,7.6)(84.8,6.3)(85.2,5.1)(85.6,5.3)(85.9,5.9)(86.2,5.4)(86.6,3.8)(87,1.9)(87.5,0.6)(88,0.1)(88.5,0)(89.76,0)};
\addplot[bS] coordinates {(76.14,1.6)(79,1.4)(82,1.3)(83.5,1.4)(84,1.8)(84.5,3.3)(84.75,5.2)(85,8.3)(85.25,12.6)(85.5,17.3)(85.75,20.9)(86,20.0)(86.25,15.6)(86.5,10.0)(86.75,5.2)(87,1.9)(87.25,0.1)(87.5,-0.6)(87.75,-0.6)(88,-0.4)(88.5,-0.1)(89,0)(89.76,0)};
\addplot[bS] coordinates {(76.14,1.4)(79,1.3)(82,1.2)(83.5,1.3)(84,1.7)(84.5,3.0)(84.75,4.6)(85,7.3)(85.25,10.9)(85.5,14.6)(85.75,17.1)(86,16.7)(86.25,13.5)(86.5,9.0)(86.75,4.9)(87,1.9)(87.25,0.2)(87.5,-0.5)(87.75,-0.5)(88,-0.4)(88.5,-0.1)(89,0)(89.76,0)};
\addplot[bS] coordinates {(76.14,1.2)(79,1.2)(82,1.1)(83.5,1.2)(84,1.5)(84.5,2.7)(84.75,4.2)(85,6.6)(85.25,9.8)(85.5,13.2)(85.75,15.4)(86,15.0)(86.25,12.2)(86.5,8.3)(86.75,4.6)(87,1.8)(87.25,0.2)(87.5,-0.5)(87.75,-0.5)(88,-0.3)(88.5,-0.1)(89,0)(89.76,0)};
\addplot[bS] coordinates {(76.14,1.1)(79,1.0)(82,1.0)(83.5,1.1)(84,1.4)(84.5,2.3)(84.75,3.3)(85,4.9)(85.25,7.0)(85.5,9.2)(85.75,10.5)(86,10.2)(86.25,8.5)(86.5,6.0)(86.75,3.5)(87,1.5)(87.25,0.2)(87.5,-0.4)(87.75,-0.4)(88,-0.3)(88.5,-0.1)(89,0)(89.76,0)};
\addplot[bS] coordinates {(76.14,1.8)(78,1.6)(82,1.4)(83.5,1.5)(84,1.9)(84.5,3.2)(84.75,4.7)(85,7.2)(85.25,10.6)(85.5,14.0)(85.75,16.0)(86,15.6)(86.25,12.7)(86.5,8.6)(86.75,4.7)(87,1.8)(87.25,0.2)(87.5,-0.5)(87.75,-0.5)(88,-0.3)(88.5,-0.1)(89,0)(89.76,0)};
\end{axis}
% ================= texts =================
\node[anchor=base west, font=\titlefont] at (68,-29) {Exon1-Guide1 melt curve};
\node[anchor=base west, font=\titlefont] at (68,-486) {Exon1-Guide2 melt curve};
\node[anchor=base west, font=\titlefont] at (656,-486) {Exon2-Guide1 melt curve};
\node[anchor=base west, font=\titlefont] at (68,-715) {Exon2-Guide2 melt curve};
\node[anchor=base west, font=\titlefont] at (656,-715) {Exon2-Guide3 melt curve};
\node[anchor=west, font=\legtitle, inner sep=0pt] at (1086,-215) {Sample};
\node[anchor=west, font=\legtitle, inner sep=0pt] at (496,-560) {Sample};
\node[anchor=west, font=\legtitle, inner sep=0pt] at (1085,-560) {Sample};
\node[anchor=west, font=\legtitle, inner sep=0pt] at (496,-789) {Sample};
\node[anchor=west, font=\legtitle, inner sep=0pt] at (1085,-789) {Sample};
\node[rotate=90, font=\axfont, inner sep=0pt] at (18,-470) {-(d/dT) Fluorescence (483-533nm)};
\node[font=\axfont, inner sep=0pt] at (622,-932) {Temperature (°C)};
\end{tikzpicture}
\end{document}
